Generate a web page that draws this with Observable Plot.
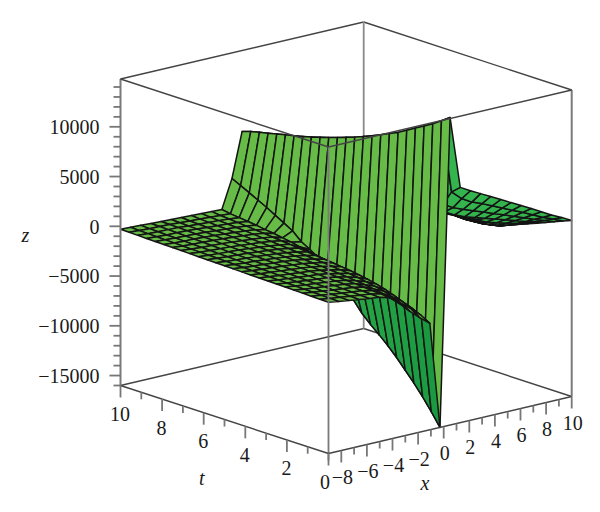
<!DOCTYPE html>
<html>
<head>
<meta charset="utf-8">
<style>html,body{margin:0;padding:0;background:#fff}svg{display:block}</style>
<script src="https://cdn.jsdelivr.net/npm/d3@7"></script>
<script src="https://cdn.jsdelivr.net/npm/@observablehq/plot@0.6"></script>
</head>
<body>
<script>
// Maple-style 25 x 25 grid
const xGrid = [-9,-8.208,-7.417,-6.625,-5.833,-5.042,-4.25,-3.458,-2.667,-1.875,-1.083,-0.292,0.5,1.292,2.083,2.875,3.667,4.458,5.25,6.042,6.833,7.625,8.417,9.208,10];
const tGrid = [0,0.417,0.833,1.25,1.667,2.083,2.5,2.917,3.333,3.75,4.167,4.583,5,5.417,5.833,6.25,6.667,7.083,7.5,7.917,8.333,8.75,9.167,9.583,10];
// z values, one array per x grid line, running along tGrid
const z00 = [-800,-780,-760,-740,-715,-695,-675,-655,-635,-615,-590,-570,-550,-530,-510,-490,-465,-445,-425,-405,-385,-365,-340,-320,-300];
const z01 = [-960,-935,-910,-885,-860,-835,-810,-785,-760,-735,-710,-685,-660,-635,-610,-585,-560,-535,-510,-485,-460,-435,-410,-385,-340];
const z02 = [-1100,-1070,-1040,-1010,-985,-955,-925,-895,-865,-835,-810,-780,-750,-720,-690,-660,-635,-605,-575,-545,-515,-490,-460,-430,-380];
const z03 = [-1240,-1205,-1170,-1135,-1100,-1065,-1030,-995,-960,-925,-890,-855,-820,-785,-750,-720,-685,-650,-615,-580,-545,-510,-480,-450,-430];
const z04 = [-1380,-1340,-1300,-1260,-1220,-1180,-1140,-1100,-1060,-1020,-980,-940,-900,-860,-820,-780,-745,-705,-665,-625,-585,-550,-515,-490,-470];
const z05 = [-1500,-1450,-1410,-1370,-1330,-1290,-1250,-1205,-1165,-1125,-1085,-1040,-1000,-960,-920,-875,-835,-790,-745,-705,-660,-620,-590,-550,-510];
const z06 = [-1750,-1680,-1620,-1560,-1500,-1450,-1400,-1350,-1300,-1250,-1200,-1150,-1105,-1060,-1015,-970,-925,-880,-835,-790,-745,-700,-660,-610,-550];
const z07 = [-2600,-2350,-2150,-1980,-1850,-1740,-1650,-1570,-1500,-1430,-1370,-1310,-1250,-1195,-1140,-1085,-1030,-975,-920,-865,-810,-755,-710,-660,-590];
const z08 = [-3600,-3100,-2750,-2450,-2250,-2080,-1930,-1820,-1730,-1650,-1570,-1500,-1430,-1360,-1290,-1220,-1150,-1080,-1010,-950,-890,-830,-770,-710,-630];
const z09 = [-4500,-3900,-3450,-3100,-2800,-2550,-2350,-2200,-2060,-1950,-1850,-1760,-1670,-1580,-1490,-1400,-1320,-1230,-1150,-1070,-990,-920,-850,-780,-670];
const z10 = [-5300,-4800,-4400,-4100,-3800,-3550,-3350,-3150,-3000,-2850,-2700,-2550,-2400,-2200,-2050,-1900,-1700,-1550,-1400,-1300,-1150,-1050,-950,-850,-700];
const z11 = [-16000,-14700,-13500,-12400,-11400,-10400,-9500,-8700,-7950,-7100,-6000,-5100,-4400,-3700,-3000,-2400,-1900,-1100,-600,-100,400,850,1300,1750,2180];
const z12 = [14900,14300,13700,13200,12700,12200,11700,11300,10900,10500,10150,9800,9500,9200,8900,8650,8400,8150,7950,7750,7550,7350,7150,6950,6660];
const z13 = [7640,6900,5400,4500,3900,3400,3000,2700,2400,2100,1800,1500,1200,950,700,500,300,100,-50,-200,-300,-400,-450,-500,-550];
const z14 = [7070,6000,4800,4100,3700,3300,3000,2700,2400,2100,1800,1500,1200,950,700,500,300,100,-50,-200,-300,-400,-450,-500,-550];
const z15 = [6540,5400,4400,3550,3350,3200,2950,2650,2400,2100,1800,1500,1200,950,700,500,300,100,-50,-200,-300,-400,-450,-500,-550];
const z16 = [6010,5010,4015,3130,3000,2950,2800,2500,2250,2000,1700,1400,1150,900,650,450,250,80,-60,-200,-300,-400,-450,-500,-550];
const z17 = [5470,4555,3640,2815,2500,2450,2450,2300,2050,1800,1550,1300,1050,800,600,400,200,50,-80,-220,-320,-400,-450,-500,-550];
const z18 = [4920,4085,3255,2500,2050,1900,1900,1900,1700,1500,1300,1100,900,700,500,300,150,0,-120,-250,-340,-420,-460,-510,-550];
const z19 = [4390,3635,2885,2190,1600,1450,1350,1300,1250,1100,950,800,650,500,350,200,50,-80,-200,-300,-380,-450,-480,-520,-550];
const z20 = [3850,3180,2505,1875,1290,850,800,750,700,700,600,500,400,300,150,0,-120,-250,-350,-420,-480,-520,-530,-540,-550];
const z21 = [3290,2700,2115,1550,1025,535,300,150,150,100,100,50,0,-100,-220,-350,-450,-550,-620,-650,-650,-640,-620,-600,-550];
const z22 = [2720,2215,1715,1220,760,320,-95,-250,-400,-450,-550,-520,-400,-450,-550,-650,-750,-850,-880,-880,-840,-780,-700,-630,-550];
const z23 = [2230,1800,1370,940,530,130,-240,-600,-780,-1000,-1050,-1080,-1060,-1000,-1050,-1100,-1150,-1150,-1120,-1040,-945,-850,-750,-650,-550];
const z24 = [1700,1350,1000,630,280,-70,-400,-730,-1000,-1300,-1530,-1620,-1680,-1670,-1620,-1500,-1400,-1250,-1150,-1050,-950,-850,-750,-650,-550];
const zRows = [z00,z01,z02,z03,z04,z05,z06,z07,z08,z09,z10,z11,z12,z13,z14,z15,z16,z17,z18,z19,z20,z21,z22,z23,z24];

const xTicks = [-9,-8,-7,-6,-5,-4,-3,-2,-1,0,1,2,3,4,5,6,7,8,9,10];
const xLabels = [-8,-6,-4,-2,0,2,4,6,8,10];
const tTicks = [0,1,2,3,4,5,6,7,8,9,10];
const tLabels = [2,4,6,8,10];
const tOrigin = [0];
const zTicks = d3.range(-16000, 14001, 1000);
const zLabels = [-15000,-10000,-5000,0,5000,10000];
const xMin = -9, xMax = 10, tMin = 0, tMax = 10, zMin = -16000, zMax = 14800;

// orthographic view of the box
const sx = v => 328 + (v[0] - xMin) * 12.8 - v[1] * 20.8;
const sy = v => 453 - (v[0] - xMin) * 3.0 - v[1] * 6.8 - (v[2] - zMin) * 0.00995;

// cells are painted from the far corner towards the viewer
const cellPoints = [];
for (let k = xGrid.length - 2; k >= 0; k--) {
  for (let j = tGrid.length - 2; j >= 0; j--) {
    const c = [[k,j],[k+1,j],[k+1,j+1],[k,j+1],[k,j]].map(([a,b]) => [xGrid[a], tGrid[b], zRows[a][b]]);
    let area = 0;
    for (let i = 0; i < 4; i++) area += sx(c[i]) * sy(c[i+1]) - sx(c[i+1]) * sy(c[i]);
    const meanZ = d3.mean(c.slice(0,4), p => p[2]);
    const under = area > 0;
    const fill = under
      ? d3.interpolateRgb("#0e8c3c", "#34b44c")(Math.min(1, (meanZ - zMin) / 18000))
      : (k >= 13 ? "#3fb54a" : "#66bc46");
    c.forEach(p => cellPoints.push({cell: k * 100 + j, p, fill}));
  }
}

const C = (x,t,z) => [x,t,z];
const backEdges = [
  [C(xMax,tMax,zMin),C(xMin,tMax,zMin)],
  [C(xMax,tMax,zMin),C(xMax,tMin,zMin)],
  [C(xMax,tMax,zMax),C(xMin,tMax,zMax)],
  [C(xMax,tMax,zMax),C(xMax,tMin,zMax)]
];
const backPost = [[C(xMax,tMax,zMin),C(xMax,tMax,zMax)]];
const sideEdges = [
  [C(xMin,tMax,zMin),C(xMin,tMax,zMax)],
  [C(xMax,tMin,zMin),C(xMax,tMin,zMax)]
];
const frontEdges = [
  [C(xMin,tMin,zMin),C(xMin,tMin,zMax)]
];
const rimEdges = [
  [C(xMin,tMin,zMax),C(xMin,tMax,zMax)],
  [C(xMin,tMin,zMax),C(xMax,tMin,zMax)],
  [C(xMin,tMin,zMin),C(xMin,tMax,zMin)],
  [C(xMin,tMin,zMin),C(xMax,tMin,zMin)]
];
const edge = (data, stroke, strokeWidth) => Plot.link(data, {
  x1: d => sx(d[0]), y1: d => sy(d[0]), x2: d => sx(d[1]), y2: d => sy(d[1]), stroke, strokeWidth
});
const minus = v => String(v).replace("-", "\u2212");
const font = {fontFamily: "'Liberation Serif', serif", fontSize: 20, fill: "#1a1a1a"};
const tPt = v => [xMin, v, zMin], xPt = v => [v, tMin, zMin], zPt = v => [xMin, tMax, v];

const chart = Plot.plot({
  width: 600, height: 512, margin: 0,
  style: {background: "#fff"},
  x: {domain: [0,600], range: [0,600], axis: null},
  y: {domain: [0,512], range: [0,512], axis: null},
  color: {type: "identity"},
  marks: [
    edge(backEdges, "#444", 1.4),
    edge(backPost, "#8a8a8a", 1.8),
    Plot.line(cellPoints, {
      x: d => sx(d.p), y: d => sy(d.p), z: "cell", fill: "fill",
      stroke: "#141414", strokeWidth: 1.5, strokeLinejoin: "round", curve: "linear"
    }),
    edge(sideEdges, "#7a7a7a", 2),
    edge(frontEdges, "#7a7a7a", 1.8),
    edge(rimEdges, "#444", 1.4),
    // z axis
    Plot.link(zTicks, {
      x1: d => sx(zPt(d)) - (d % 5000 === 0 ? 11 : 7), x2: d => sx(zPt(d)),
      y1: d => sy(zPt(d)), y2: d => sy(zPt(d)), stroke: "#777", strokeWidth: 1.8
    }),
    Plot.text(zLabels, {x: d => sx(zPt(d)), y: d => sy(zPt(d)), text: minus, textAnchor: "end", dx: -21, dy: 1, ...font}),
    // t axis
    Plot.link(tTicks, {
      x1: d => sx(tPt(d)), x2: d => sx(tPt(d)),
      y1: d => sy(tPt(d)), y2: d => sy(tPt(d)) + (d % 2 === 0 ? 12 : 7), stroke: "#777", strokeWidth: 1.8
    }),
    Plot.text(tLabels, {x: d => sx(tPt(d)), y: d => sy(tPt(d)), text: minus, dy: 29, dx: -0.5, ...font}),
    Plot.text(tOrigin, {x: d => sx(tPt(d)), y: d => sy(tPt(d)), text: minus, dy: 29, dx: -3.5, ...font}),
    // x axis
    Plot.link(xTicks, {
      x1: d => sx(xPt(d)), x2: d => sx(xPt(d)),
      y1: d => sy(xPt(d)), y2: d => sy(xPt(d)) + (d % 2 === 0 ? 12 : 7), stroke: "#777", strokeWidth: 1.8
    }),
    Plot.text(xLabels, {x: d => sx(xPt(d)), y: d => sy(xPt(d)), text: minus, dy: 27.5, dx: 1, ...font}),
    // axis titles
    Plot.text(["z"], {x: () => sx(zPt(0)), y: () => sy(zPt(0)), dx: -95, dy: 9, fontStyle: "italic", ...font}),
    Plot.text(["t"], {x: () => sx(tPt(6)), y: () => sy(tPt(6)), dx: -2, dy: 66, fontStyle: "italic", ...font}),
    Plot.text(["x"], {x: () => sx(xPt(-1)), y: () => sy(xPt(-1)), dx: -6, dy: 54, fontStyle: "italic", ...font})
  ]
});
document.body.appendChild(chart);
</script>
</body>
</html>
